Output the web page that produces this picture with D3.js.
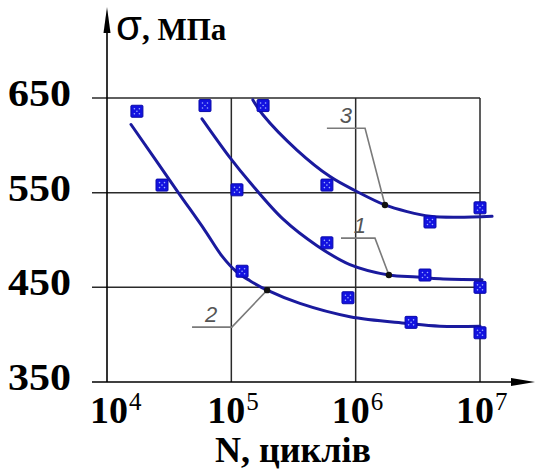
<!DOCTYPE html>
<html><head><meta charset="utf-8">
<script src="https://cdn.jsdelivr.net/npm/d3@7"></script>
<style>body{margin:0;background:#fff}svg{display:block}</style>
</head><body>
<svg id="c" width="536" height="473"></svg>
<script>
// ---- data ----
const xTicks = [1e4, 1e5, 1e6, 1e7];
const xTickExp = ["4", "5", "6", "7"];
const yTicks = [350, 450, 550, 650];
const yTitle = "σ";
const yUnit = ", МПа";
const xTitle = "N, циклів";

// experimental points [N, σ]
const points2 = [[17400,636],[27700,558],[122000,467],[867000,439],[2790000,413],[10000000,402]];
const points1 = [[61400,642],[111000,553],[587000,497],[3610000,463],[10000000,450]];
const points3 = [[180000,642],[587000,558],[3960000,519],[10000000,534]];

// fitted curves [N, σ]
const curve2 = [[15600,622],[36600,552],[61400,510],[84200,483],[109000,467],[141000,457],[194000,447],[356000,433],[899000,419],[2590000,412],[4760000,409],[10000000,409]];
const curve1 = [[58100,628],[97500,587],[141000,561],[261000,522],[489000,494],[899000,474],[1850000,463],[3110000,461],[4760000,459],[10400000,458]];
const curve3 = [[149000,648],[180000,632],[337000,595],[622000,567],[1030000,551],[1720000,537],[2590000,530],[3960000,525],[6530000,524],[12500000,525]];

// curve labels: name, anchor point on curve [N, σ], leader shelf [Nstart, Nend, σ]
const labels = [
  {name:"3", dot:[1720000,537], shelf:[587000,1190000,618]},
  {name:"1", dot:[1850000,463], shelf:[762000,1430000,502]},
  {name:"2", dot:[194000,447], shelf:[48300,101000,408]}
];

// ---- drawing ----
const svg = d3.select("#c");
const x = d3.scaleLog().domain([1e4,1e7]).range([107,480]);
const y = d3.scaleLinear().domain([350,650]).range([382,98]);

const grid = svg.append("g").attr("stroke","#2a2a2a").attr("stroke-width",1.5).attr("fill","none");
yTicks.filter(t=>t>350).forEach(t=>{
  grid.append("line").attr("x1",92).attr("x2", t===450?486:480).attr("y1",y(t)).attr("y2",y(t));
});
xTicks.filter(t=>t>1e4).forEach(t=>{
  grid.append("line").attr("x1",x(t)).attr("x2",x(t)).attr("y1",y(650)).attr("y2",y(350));
});

// axes
const ax = svg.append("g");
ax.append("line").attr("x1",92).attr("x2",520).attr("y1",y(350)).attr("y2",y(350)).attr("stroke","#000").attr("stroke-width",1.6);
ax.append("path").attr("d",`M535,${y(350)} L511,${y(350)-4} L511,${y(350)+4} Z`).attr("fill","#000");
ax.append("line").attr("x1",x(1e4)).attr("x2",x(1e4)).attr("y1",y(350)).attr("y2",25).attr("stroke","#000").attr("stroke-width",1.6);
ax.append("path").attr("d",`M${x(1e4)},7 L${x(1e4)-3.5},33 L${x(1e4)+3.5},33 Z`).attr("fill","#000");

// y tick labels
svg.append("g").selectAll("text").data(yTicks).join("text")
  .attr("x",8).attr("y",d=>y(d)+8)
  .attr("textLength",63).attr("lengthAdjust","spacingAndGlyphs")
  .attr("font-family","'Liberation Serif', 'Times New Roman', serif")
  .attr("font-weight","bold").attr("font-size",38).attr("fill","#000")
  .text(d=>d);

// x tick labels
const xl = svg.append("g");
xTicks.forEach((t,i)=>{
  const tx = xl.append("text")
    .attr("x", x(t) - 24 + (i===0?7:0)).attr("y", 423)
    .attr("font-family","'Liberation Serif', 'Times New Roman', serif")
    .attr("fill","#000");
  tx.append("tspan").attr("font-weight","bold").attr("font-size",38).text("10");
  tx.append("tspan").attr("font-size",25).attr("dy",-13).attr("dx",1).text(xTickExp[i]);
});

// axis titles
svg.append("text").attr("x",293).attr("y",462).attr("text-anchor","middle")
  .attr("font-family","'Liberation Serif', 'Times New Roman', serif")
  .attr("font-weight","bold").attr("font-size",36).attr("fill","#000").text(xTitle);
const yt = svg.append("text").attr("x",116).attr("y",40).attr("fill","#000")
  .attr("font-family","'Liberation Serif', 'Times New Roman', serif");
yt.append("tspan").attr("font-family","'Liberation Sans', Arial, sans-serif").attr("font-size",42).text(yTitle);
yt.append("tspan").attr("font-weight","bold").attr("font-size",31).text(yUnit);

// curves
const line = d3.line().x(d=>x(d[0])).y(d=>y(d[1])).curve(d3.curveCatmullRom.alpha(0.5));
const curveColor = "#1a1a9e";
[curve1, curve2, curve3].forEach(c=>{
  svg.append("path").attr("d",line(c)).attr("fill","none").attr("stroke",curveColor)
    .attr("stroke-width",3).attr("stroke-linecap","round");
});

// leaders and labels
const lg = svg.append("g");
labels.forEach(l=>{
  const x0 = x(l.shelf[0]), x1 = x(l.shelf[1]), yy = y(l.shelf[2]);
  lg.append("path").attr("d",`M${x0},${yy} L${x1},${yy} L${x(l.dot[0])},${y(l.dot[1])}`)
    .attr("fill","none").attr("stroke","#7a7a7a").attr("stroke-width",1.6);
  lg.append("circle").attr("cx",x(l.dot[0])).attr("cy",y(l.dot[1])).attr("r",3.2).attr("fill","#111");
  lg.append("text").attr("x",x0+19).attr("y",yy-5).attr("text-anchor","middle")
    .attr("font-family","'Liberation Sans', Arial, sans-serif").attr("font-style","italic")
    .attr("font-size",22).attr("fill","#555").text(l.name);
});

// markers
const mg = svg.append("g");
[points1, points2, points3].forEach(ps=>{
  ps.forEach(p=>{
    const cx = x(p[0]), cy = y(p[1]);
    const g = mg.append("g").attr("transform",`translate(${cx},${cy})`);
    g.append("rect").attr("x",-6).attr("y",-6).attr("width",12).attr("height",12)
      .attr("fill","#1212e0").attr("stroke","#0a0aa8").attr("stroke-width",1).attr("rx",1);
    [[-2.5,-2.5],[2.5,-2.5],[-2.5,2.5],[2.5,2.5],[0,0]].forEach(o=>{
      g.append("circle").attr("cx",o[0]).attr("cy",o[1]).attr("r",0.8).attr("fill","#9fb0ff");
    });
  });
});
</script>
</body></html>
